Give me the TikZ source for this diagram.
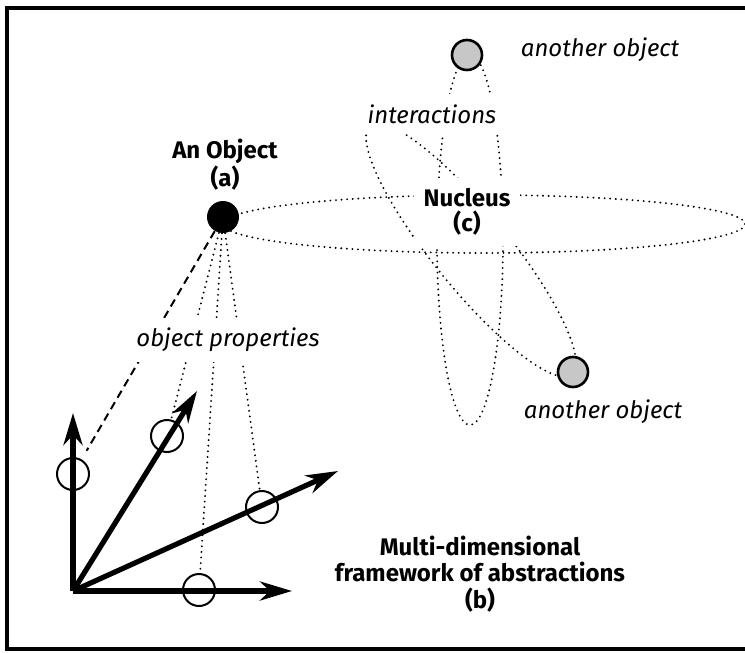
\documentclass[tikz,border=0pt]{standalone}
\usepackage{fontspec}
\setmainfont{Fira Sans}
\usetikzlibrary{arrows.meta,backgrounds}

\tikzset{
  frame/.style={line width=2pt},
  orbit/.style={line width=1.05pt, line cap=round, dash pattern=on 0pt off 2.8pt},
  dashlink/.style={line width=1pt, dash pattern=on 4pt off 2.6pt},
  axis/.style={line width=2.6pt, -{Stealth[length=16pt,width=9.5pt,inset=5pt]}},
  propcircle/.style={circle, draw, line width=1pt, minimum size=16pt, inner sep=0pt},
  othercircle/.style={circle, draw, line width=1.3pt, fill=black!22, minimum size=15pt, inner sep=0pt},
  boldlbl/.style={font=\fontsize{12}{12.5}\selectfont\bfseries, align=center, fill=white, inner sep=5pt},
  itlbl/.style={font=\fontsize{12}{12.5}\selectfont\itshape, fill=white, inner sep=5pt}
}

\begin{document}
\begin{tikzpicture}[x=0.5pt, y=-0.5pt]
  \useasboundingbox (0,0) rectangle (745,653);

  % -- frame --
  \draw[frame] (745,8) -- (7,8) -- (7,649) -- (745,649);

  % -- the object and the others --
  \node[circle, fill=black, minimum size=16pt, inner sep=0pt] (obj) at (223,217) {};
  \node[othercircle] (topobj) at (467,55) {};
  \node[othercircle] (lowobj) at (573,372) {};

  % -- labels --
  \node[boldlbl] (lblobj) at (225,165) {An Object\\(a)};
  \node[boldlbl] (lblnuc) at (467,212) {Nucleus\\(c)};
  \node[boldlbl, font=\fontsize{12}{13.2}\selectfont\bfseries] (lblframe) at (480,574) {Multi-dimensional\\framework of abstractions\\(b)};
  \node[itlbl] (lblint) at (432,114) {interactions};
  \node[itlbl] (lblprop) at (228,340) {object properties};
  \node[itlbl] (lbltop) at (600,50) {another object};
  \node[itlbl] (lbllow) at (603,412) {another object};

  % -- framework of abstractions (axes) --
  \coordinate (O) at (73,591);
  \coordinate (tipv) at (73,413);
  \coordinate (tip60) at (197,391);
  \coordinate (tip30) at (338,471);
  \coordinate (tiph) at (292,591);
  \draw[axis] (O) -- (tipv);
  \draw[axis] (O) -- (tip60);
  \draw[axis] (O) -- (tip30);
  \draw[axis] (O) -- (tiph);

  % property circles on the axes
  \node[propcircle] (pv) at (73,474) {};
  \node[propcircle] (p60) at (167,436) {};
  \node[propcircle] (p30) at (262,507) {};
  \node[propcircle] (ph) at (199,590) {};

  \begin{scope}[on background layer]
    % -- orbits round the nucleus --
    \draw[orbit] (484,224) ellipse [x radius=261, y radius=29];
    \draw[orbit] (470,240) ellipse [x radius=33, y radius=185];
    \draw[orbit, rotate around={-51:(471,250)}] (471,250) ellipse [x radius=160, y radius=38];

    % -- object properties --
    \draw[dashlink, shorten >=5pt] (obj) -- (pv);
    \draw[orbit] (obj) -- (p60);
    \draw[orbit] (obj) -- (ph);
    \draw[orbit] (obj) -- (p30);
  \end{scope}

\end{tikzpicture}
\end{document}
